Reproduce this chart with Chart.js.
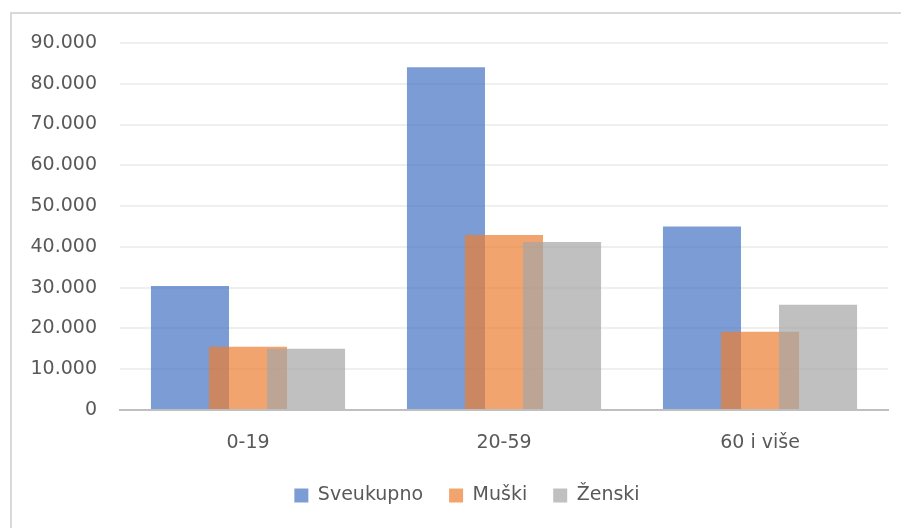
<!DOCTYPE html>
<html>
<head>
<meta charset="utf-8">
<script src="https://cdn.jsdelivr.net/npm/chart.js@4"></script>
<style>
  body { margin: 0; background: #fff; overflow: hidden; }
  #wrap { position: relative; width: 901px; height: 528px; }
  #frame { position: absolute; left: 10px; top: 12px; width: 900px; height: 600px;
           border: 2px solid #d9d9d9; pointer-events: none; }
</style>
</head>
<body>
<div id="wrap">
  <canvas id="chart1" width="901" height="528"></canvas>
  <div id="frame"></div>
</div>
<script>
const categories = ['0-19', '20-59', '60 i više'];
const seriesNames = ['Sveukupno', 'Muški', 'Ženski'];
const sveukupno = [30400, 84050, 45000];
const muski = [15500, 42900, 19200];
const zenski = [15000, 41200, 25800];
const yMax = 90000;
const yStep = 10000;

function formatThousands(v) {
    return String(v).replace(/\B(?=(\d{3})+(?!\d))/g, '.');
}

// draw first dataset first, so the right bar of each group lies on top
const drawInOrder = {
    id: 'drawInOrder',
    beforeDatasetsDraw(chart) {
        chart.getSortedVisibleDatasetMetas().forEach(m => m.controller.draw());
        return false;
    }
};

// legend sits a little right of the canvas centre
const shiftLegend = {
    id: 'shiftLegend',
    afterLayout(chart) {
        chart.legend.left += 11;
        chart.legend.right += 11;
    }
};

const font = "'DejaVu Sans', sans-serif";
const ctx = document.getElementById('chart1').getContext('2d');

const myChart = new Chart(ctx, {
    type: 'bar',
    data: {
        labels: categories,
        datasets: [
            { label: seriesNames[0], data: sveukupno, backgroundColor: 'rgba(68,114,196,0.7)' },
            { label: seriesNames[1], data: muski, backgroundColor: 'rgba(237,125,49,0.7)' },
            { label: seriesNames[2], data: zenski, backgroundColor: 'rgba(165,165,165,0.7)' }
        ]
    },
    options: {
        responsive: false,
        animation: false,
        devicePixelRatio: 1,
        categoryPercentage: 0.68,
        barPercentage: 1.345,
        layout: { padding: { left: 24, right: 13, top: 43, bottom: 13 } },
        plugins: {
            tooltip: { enabled: false },
            legend: {
                position: 'bottom',
                labels: {
                    boxWidth: 14,
                    boxHeight: 14,
                    padding: 26,
                    color: '#595959',
                    font: { family: font, size: 19 }
                }
            }
        },
        scales: {
            x: {
                grid: { display: false, drawTicks: false },
                border: { color: '#bfbfbf', width: 2 },
                ticks: { color: '#595959', padding: 22, font: { family: font, size: 19 } },
                afterFit(s) { s.height = 50; }
            },
            y: {
                min: 0,
                max: yMax,
                grid: { color: '#efefef', lineWidth: 2, drawTicks: false },
                border: { display: false },
                ticks: {
                    stepSize: yStep,
                    color: '#595959',
                    padding: 23,
                    font: { family: font, size: 19 },
                    callback: v => formatThousands(v)
                },
                afterFit(s) { s.width = 96; }
            }
        }
    },
    plugins: [drawInOrder, shiftLegend]
});
</script>
</body>
</html>
